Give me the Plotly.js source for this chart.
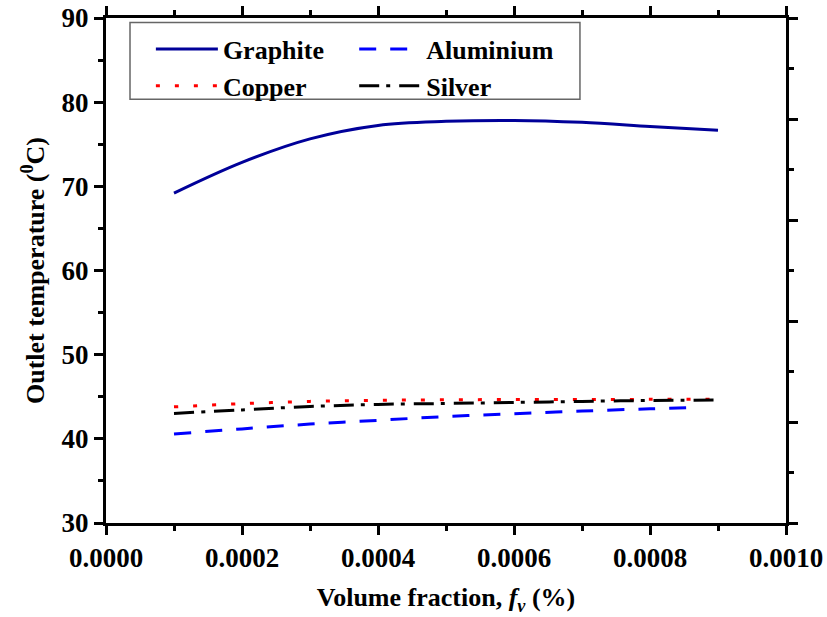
<!DOCTYPE html>
<html>
<head>
<meta charset="utf-8">
<script src="https://cdn.plot.ly/plotly-3.0.1.min.js"></script>
<style>
html,body{margin:0;padding:0;background:#fff;}
#chart{width:827px;height:617px;}
#chart svg text{font-family:"Liberation Serif","Times New Roman","DejaVu Serif",serif !important;font-weight:bold !important;}
</style>
</head>
<body>
<div id="chart"></div>
<script>
// Volume fraction (x) values
const xFrac = [0.0001, 0.0002, 0.0003, 0.0004, 0.0005, 0.0006, 0.0007, 0.0008, 0.0009];
const xFracAl = [0.0001, 0.0002, 0.0003, 0.0004, 0.0005, 0.0006, 0.0007, 0.0008, 0.00086];
// Outlet temperature (°C) per nanoparticle
const graphite  = [69.2, 72.85, 75.64, 77.24, 77.72, 77.83, 77.6, 77.12, 76.65];
const aluminium = [40.58, 41.18, 41.75, 42.2, 42.65, 42.98, 43.3, 43.57, 43.72];
const copper    = [43.80, 44.18, 44.45, 44.58, 44.64, 44.67, 44.68, 44.69, 44.70];
const silver    = [43.02, 43.44, 43.84, 44.09, 44.2, 44.32, 44.45, 44.56, 44.61];
const seriesNames = ['Graphite', 'Aluminium', 'Copper', 'Silver'];
const yTickVals = [30, 40, 50, 60, 70, 80, 90];

const FONT = 'Liberation Serif, Times New Roman, DejaVu Serif, serif';

const traces = [
  {x: xFrac, y: graphite, name: seriesNames[0], legend: 'legend', mode: 'lines', line: {color: '#000099', width: 3, shape: 'spline'}},
  {x: xFracAl, y: aluminium, name: seriesNames[1], legend: 'legend2', mode: 'lines', line: {color: '#0000FF', width: 3, dash: '17px,14px', shape: 'spline'}},
  {x: xFrac, y: copper, name: seriesNames[2], legend: 'legend', mode: 'lines', line: {color: '#FF0000', width: 3, dash: '4px,15px', shape: 'spline'}},
  {x: xFrac, y: silver, name: seriesNames[3], legend: 'legend2', mode: 'lines', line: {color: '#000000', width: 3, dash: '20px,7px,4px,9px', shape: 'spline'}},
  {x: [], y: [], yaxis: 'y2', showlegend: false, hoverinfo: 'skip', mode: 'lines'}
];

const legendCommon = {
  orientation: 'v', yanchor: 'top', xanchor: 'left', y: 0.985,
  itemwidth: 62, borderwidth: 0, bgcolor: 'rgba(0,0,0,0)',
  font: {family: FONT, size: 26, weight: 700, color: '#000'},
  tracegroupgap: 0
};

const layout = {
  width: 827, height: 617,
  margin: {l: 106, r: 41, t: 17.5, b: 94},
  paper_bgcolor: '#fff', plot_bgcolor: '#fff',
  font: {family: FONT, size: 26, color: '#000', weight: 700},
  showlegend: true,
  legend: Object.assign({}, legendCommon, {x: 0.066}),
  legend2: Object.assign({}, legendCommon, {x: 0.365}),
  shapes: [{
    type: 'rect', xref: 'paper', yref: 'paper',
    x0: 0.0353, x1: 0.697, y0: 0.839, y1: 0.991,
    line: {color: '#666', width: 1.5}, fillcolor: 'rgba(0,0,0,0)'
  }],
  xaxis: {
    range: [0, 0.001], dtick: 0.0002, tick0: 0, tickformat: '.4f',
    showgrid: false, zeroline: false,
    showline: true, linecolor: '#000', linewidth: 3, mirror: 'ticks',
    ticks: 'outside', ticklen: 9, tickwidth: 3, tickcolor: '#000',
    minor: {dtick: 0.0001, tick0: 0, ticks: 'outside', ticklen: 5, tickwidth: 3, tickcolor: '#000', showgrid: false},
    tickfont: {family: FONT, size: 27, weight: 700},
    title: {text: 'Volume fraction, <i>f<sub>v</sub></i> (%)', font: {family: FONT, size: 26, weight: 700}, standoff: 16}
  },
  yaxis: {
    range: [30, 90], tickvals: yTickVals,
    showgrid: false, zeroline: false,
    showline: true, linecolor: '#000', linewidth: 3, mirror: false,
    ticks: 'outside', ticklen: 9, tickwidth: 3, tickcolor: '#000',
    minor: {dtick: 5, tick0: 30, ticks: 'outside', ticklen: 5, tickwidth: 3, tickcolor: '#000', showgrid: false},
    tickfont: {family: FONT, size: 27, weight: 700},
    title: {text: 'Outlet temperature (<sup>0</sup>C)', font: {family: FONT, size: 26, weight: 700}, standoff: 10}
  },
  yaxis2: {
    overlaying: 'y', side: 'right', range: [0, 5], dtick: 1, tick0: 0,
    showticklabels: false, showgrid: false, zeroline: false,
    showline: true, linecolor: '#000', linewidth: 3,
    ticks: 'outside', ticklen: 9, tickwidth: 3, tickcolor: '#000',
    minor: {dtick: 0.5, tick0: 0, ticks: 'outside', ticklen: 5, tickwidth: 3, tickcolor: '#000', showgrid: false}
  }
};

Plotly.newPlot('chart', traces, layout, {displayModeBar: false, staticPlot: true});
</script>
</body>
</html>
